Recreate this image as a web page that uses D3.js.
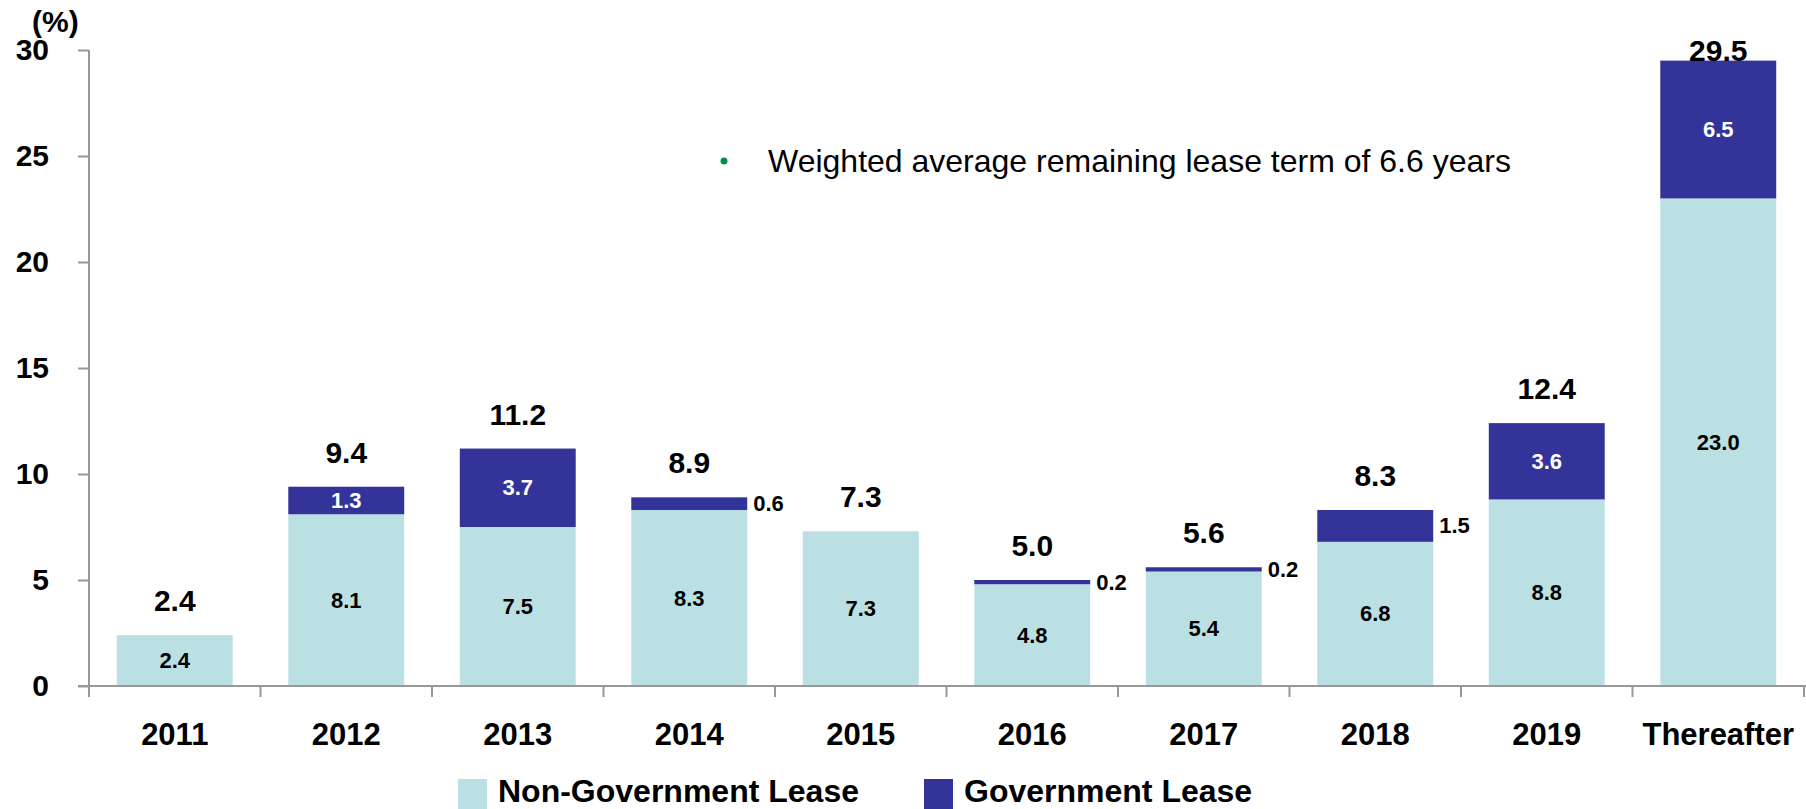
<!DOCTYPE html>
<html>
<head>
<meta charset="utf-8">
<script src="https://cdn.jsdelivr.net/npm/d3@7"></script>
<style>
  body { margin: 0; background: #fff; }
  svg { display: block; font-family: "Liberation Sans", Arial, sans-serif; }
</style>
</head>
<body>
<div id="chart"></div>
<script>
// Data
const categories = ["2011", "2012", "2013", "2014", "2015", "2016", "2017", "2018", "2019", "Thereafter"];
const nonGov = [2.4, 8.1, 7.5, 8.3, 7.3, 4.8, 5.4, 6.8, 8.8, 23.0];
const gov = [0, 1.3, 3.7, 0.6, 0, 0.2, 0.2, 1.5, 3.6, 6.5];
const totals = [2.4, 9.4, 11.2, 8.9, 7.3, 5.0, 5.6, 8.3, 12.4, 29.5];
const govOutside = [false, false, false, true, false, true, true, true, false, false];
const yTicks = [0, 5, 10, 15, 20, 25, 30];

const width = 1806, height = 809;
const lightColor = "#bbe0e3", darkColor = "#333399", axisColor = "#999";

const svg = d3.select("#chart").append("svg")
  .attr("width", width)
  .attr("height", height);

// Scales
const x = d3.scaleBand()
  .domain(categories)
  .range([89, 1804])
  .paddingInner(0.324)
  .paddingOuter(0.162);
const step = x.step();

const y = d3.scaleLinear()
  .domain([0, 30])
  .range([686, 50]);

// Y axis
const yAxis = svg.append("g")
  .attr("transform", "translate(89,0)")
  .call(d3.axisLeft(y).tickValues(yTicks).tickSize(11).tickPadding(29));
yAxis.select(".domain").remove();
yAxis.selectAll(".tick line").attr("stroke", axisColor).attr("stroke-width", 2);
yAxis.selectAll(".tick text")
  .style("font-size", "30px").style("font-weight", "bold")
  .attr("fill", "#000").attr("font-family", null);

svg.append("line")
  .attr("x1", 89).attr("x2", 89)
  .attr("y1", y(30)).attr("y2", 697)
  .attr("stroke", axisColor).attr("stroke-width", 2);

svg.append("text")
  .attr("x", 32).attr("y", 32)
  .style("font-size", "30px").style("font-weight", "bold")
  .text("(%)");

// Bars
const rows = categories.map((c, i) => ({ c, ng: nonGov[i], g: gov[i], t: totals[i], out: govOutside[i] }));
const bw = x.bandwidth();

svg.append("g").selectAll("rect")
  .data(rows).enter().append("rect")
  .attr("x", d => x(d.c)).attr("width", bw)
  .attr("y", d => y(d.ng)).attr("height", d => y(0) - y(d.ng))
  .attr("fill", lightColor);

svg.append("g").selectAll("rect")
  .data(rows.filter(d => d.g > 0)).enter().append("rect")
  .attr("x", d => x(d.c)).attr("width", bw)
  .attr("y", d => y(d.ng + d.g)).attr("height", d => y(d.ng) - y(d.ng + d.g))
  .attr("fill", darkColor);

// X axis line and boundary ticks
svg.append("line")
  .attr("x1", 78).attr("x2", width)
  .attr("y1", y(0)).attr("y2", y(0))
  .attr("stroke", axisColor).attr("stroke-width", 2);

svg.append("g").selectAll("line")
  .data(categories.slice(1).concat(["end"])).enter().append("line")
  .attr("x1", (d, i) => 89 + (i + 1) * step).attr("x2", (d, i) => 89 + (i + 1) * step)
  .attr("y1", y(0)).attr("y2", 697)
  .attr("stroke", axisColor).attr("stroke-width", 2);

const xAxis = svg.append("g")
  .attr("transform", `translate(0,${y(0)})`)
  .call(d3.axisBottom(x).tickSize(0).tickPadding(37));
xAxis.select(".domain").remove();
xAxis.selectAll(".tick text")
  .style("font-size", "31px").style("font-weight", "bold")
  .attr("fill", "#000").attr("font-family", null);

// Labels
const cx = d => x(d.c) + bw / 2;

svg.append("g").selectAll("text")
  .data(rows).enter().append("text")
  .attr("x", cx)
  .attr("y", d => (y(d.ng) + y(0)) / 2)
  .attr("text-anchor", "middle").attr("dominant-baseline", "central")
  .style("font-size", "22px").style("font-weight", "bold")
  .text(d => d.ng.toFixed(1));

svg.append("g").selectAll("text")
  .data(rows.filter(d => d.g > 0)).enter().append("text")
  .attr("x", d => d.out ? x(d.c) + bw + 6 : cx(d))
  .attr("y", d => (y(d.ng) + y(d.ng + d.g)) / 2)
  .attr("text-anchor", d => d.out ? "start" : "middle")
  .attr("dominant-baseline", "central")
  .attr("fill", d => d.out ? "#000" : "#fff")
  .style("font-size", "22px").style("font-weight", "bold")
  .text(d => d.g.toFixed(1));

svg.append("g").selectAll("text")
  .data(rows).enter().append("text")
  .attr("x", cx)
  .attr("y", d => Math.max(y(d.t) - 24, 61))
  .attr("text-anchor", "middle")
  .style("font-size", "30px").style("font-weight", "bold")
  .text(d => d.t.toFixed(1));

// Annotation
svg.append("circle")
  .attr("cx", 724).attr("cy", 161).attr("r", 3.5)
  .attr("fill", "#00924a");
svg.append("text")
  .attr("x", 768).attr("y", 172)
  .style("font-size", "32px")
  .text("Weighted average remaining lease term of 6.6 years");

// Legend
const legend = [
  { label: "Non-Government Lease", color: lightColor, x: 458 },
  { label: "Government Lease", color: darkColor, x: 924 }
];
const lg = svg.append("g").selectAll("g")
  .data(legend).enter().append("g")
  .attr("transform", d => `translate(${d.x},779)`);
lg.append("rect").attr("width", 29).attr("height", 30).attr("fill", d => d.color);
lg.append("text")
  .attr("x", 40).attr("y", 23)
  .style("font-size", "32px").style("font-weight", "bold")
  .text(d => d.label);
</script>
</body>
</html>
